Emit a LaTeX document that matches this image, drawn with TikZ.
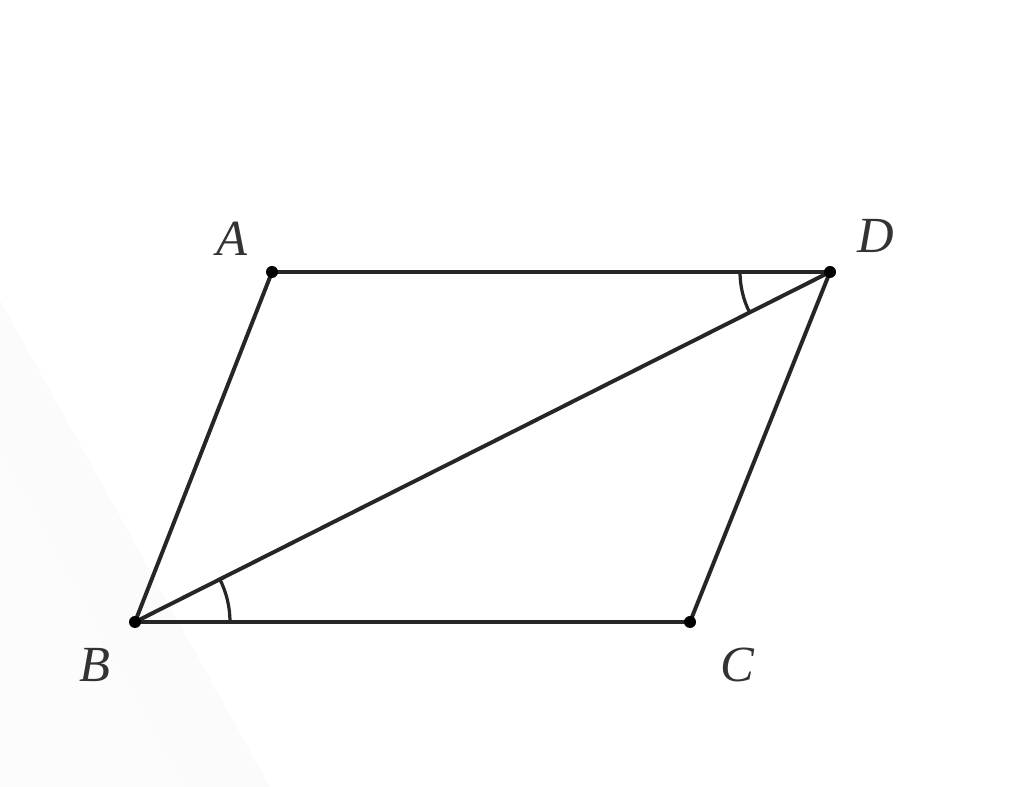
\documentclass[tikz,border=0pt]{standalone}
\usepackage{fontspec}
\setmainfont{Liberation Serif}
\usetikzlibrary{calc}
\begin{document}
\begin{tikzpicture}[x=0.025cm,y=0.025cm,
  edge/.style={line width=2.8pt,draw=black!85},
  anglearc/.style={line width=2.3pt,draw=black!85},
  vdot/.style={circle,fill=black,inner sep=0pt,minimum size=0.3cm},
  lbl/.style={font=\fontsize{36}{42}\selectfont\itshape,text=black!80,inner sep=0pt}]
\useasboundingbox (0,0) rectangle (1024,787);
\fill[black!1.5] (0,487) -- (270,0) -- (0,0) -- cycle;
\fill[black!1] (0,330) -- (180,0) -- (0,0) -- cycle;
\coordinate (A) at (272,515);
\coordinate (D) at (830,515);
\coordinate (B) at (135,165);
\coordinate (C) at (690,165);
\draw[edge] (A) -- (D) -- (C) -- (B) -- cycle;
\draw[edge] (B) -- (D);
\draw[anglearc] ($(B)+(95,0)$) arc[start angle=0,end angle=26.7,radius=95];
\draw[anglearc] ($(D)+(-90,0)$) arc[start angle=180,end angle=206.7,radius=90];
\node[vdot] (dA) at (A) {};
\node[vdot] (dD) at (D) {};
\node[vdot] (dB) at (B) {};
\node[vdot] (dC) at (C) {};
\node[lbl] (lA) at (232,548) {A};
\node[lbl] (lD) at (876,551) {D};
\node[lbl] (lB) at (95,122) {B};
\node[lbl] (lC) at (737,122) {C};
\end{tikzpicture}
\end{document}
